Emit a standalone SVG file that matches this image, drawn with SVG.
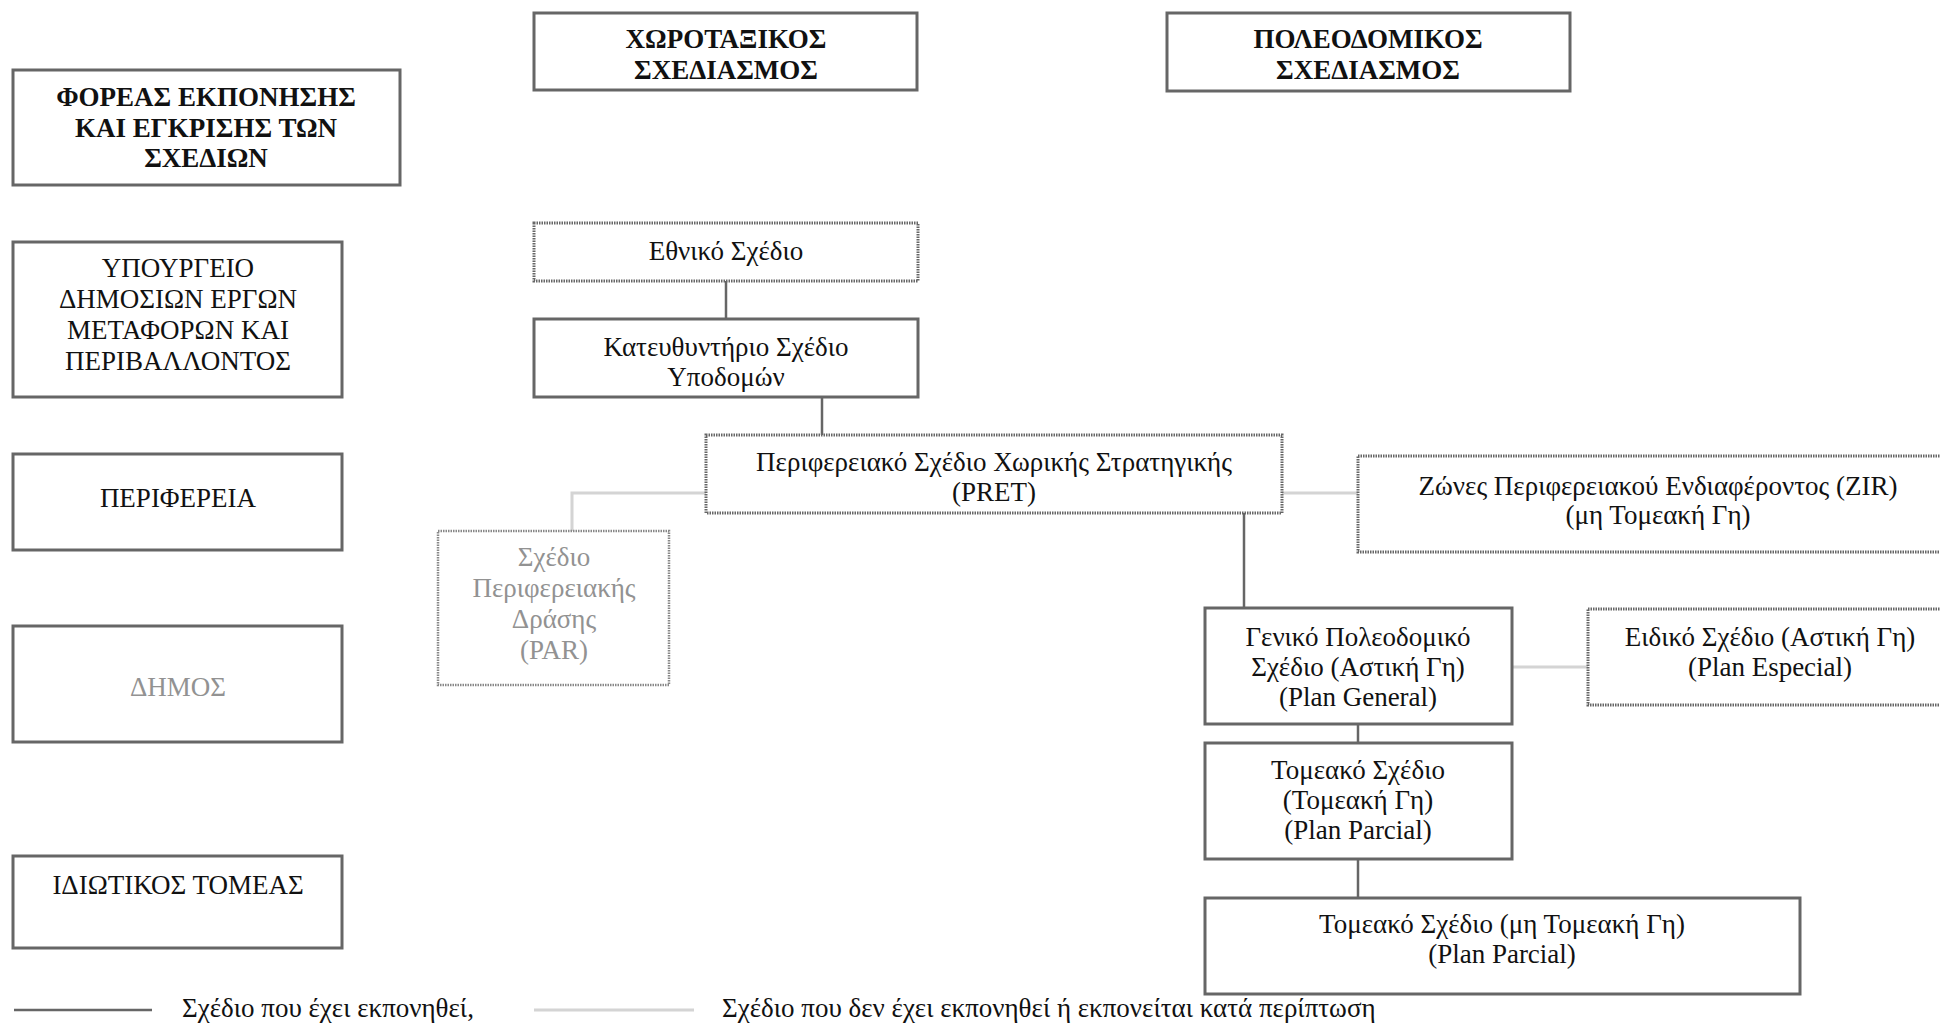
<svg xmlns="http://www.w3.org/2000/svg" width="1940" height="1023" viewBox="0 0 1940 1023">
<style>
  text { font-family: "Liberation Serif", "Times New Roman", serif; font-size: 27px; fill: #111; text-anchor: middle; }
  .b { font-weight: bold; }
  .grey { fill: #929292; }
  .box { fill: #fff; stroke: #666; stroke-width: 3; }
  .dot { fill: #fff; stroke: #666; stroke-width: 3; stroke-dasharray: 1.5 1; }
  .dotg { fill: #fff; stroke: #888; stroke-width: 2.5; stroke-dasharray: 1.5 1; }
  .c { fill: none; stroke: #666; stroke-width: 2.5; }
  .cl { fill: none; stroke: #d4d4d4; stroke-width: 3; }
  .legtxt { text-anchor: start; }
</style>
<rect width="1940" height="1023" fill="#fff"/>

<g id="connectors">
  <line class="c" x1="726" y1="281" x2="726" y2="319"/>
  <line class="c" x1="822" y1="397" x2="822" y2="435"/>
  <polyline class="cl" points="706,493 572,493 572,531"/>
  <line class="cl" x1="1282" y1="493" x2="1358" y2="493"/>
  <line class="c" x1="1244" y1="513" x2="1244" y2="608"/>
  <line class="cl" x1="1512" y1="667" x2="1588" y2="667"/>
  <line class="c" x1="1358" y1="724" x2="1358" y2="743"/>
  <line class="c" x1="1358" y1="859" x2="1358" y2="898"/>
</g>

<g id="header-foreas">
  <rect class="box" x="13" y="70" width="387" height="115"/>
  <text class="b" x="206" y="106">ΦΟΡΕΑΣ ΕΚΠΟΝΗΣΗΣ</text>
  <text class="b" x="206" y="137">ΚΑΙ ΕΓΚΡΙΣΗΣ ΤΩΝ</text>
  <text class="b" x="206" y="167">ΣΧΕΔΙΩΝ</text>
</g>
<g id="header-xorotaxikos">
  <rect class="box" x="534" y="13" width="383" height="77"/>
  <text class="b" x="726" y="48">ΧΩΡΟΤΑΞΙΚΟΣ</text>
  <text class="b" x="726" y="79">ΣΧΕΔΙΑΣΜΟΣ</text>
</g>
<g id="header-poleodomikos">
  <rect class="box" x="1167" y="13" width="403" height="78"/>
  <text class="b" x="1368" y="48">ΠΟΛΕΟΔΟΜΙΚΟΣ</text>
  <text class="b" x="1368" y="79">ΣΧΕΔΙΑΣΜΟΣ</text>
</g>

<g id="ypourgeio">
  <rect class="box" x="13" y="242" width="329" height="155"/>
  <text x="178" y="277">ΥΠΟΥΡΓΕΙΟ</text>
  <text x="178" y="308">ΔΗΜΟΣΙΩΝ ΕΡΓΩΝ</text>
  <text x="178" y="339">ΜΕΤΑΦΟΡΩΝ ΚΑΙ</text>
  <text x="178" y="370">ΠΕΡΙΒΑΛΛΟΝΤΟΣ</text>
</g>
<g id="perifereia">
  <rect class="box" x="13" y="454" width="329" height="96"/>
  <text x="178" y="507">ΠΕΡΙΦΕΡΕΙΑ</text>
</g>
<g id="dimos">
  <rect class="box" x="13" y="626" width="329" height="116"/>
  <text class="grey" x="178" y="696">ΔΗΜΟΣ</text>
</g>
<g id="idiotikos">
  <rect class="box" x="13" y="856" width="329" height="92"/>
  <text x="178" y="894">ΙΔΙΩΤΙΚΟΣ ΤΟΜΕΑΣ</text>
</g>

<g id="ethniko">
  <rect class="dot" x="534" y="223" width="384" height="58"/>
  <text x="726" y="260">Εθνικό Σχέδιο</text>
</g>
<g id="kateythyntirio">
  <rect class="box" x="534" y="319" width="384" height="78"/>
  <text x="726" y="356">Κατευθυντήριο Σχέδιο</text>
  <text x="726" y="386">Υποδομών</text>
</g>
<g id="pret">
  <rect class="dot" x="706" y="435" width="576" height="78"/>
  <text x="994" y="471">Περιφερειακό Σχέδιο Χωρικής Στρατηγικής</text>
  <text x="994" y="501">(PRET)</text>
</g>
<g id="par">
  <rect class="dotg" x="438" y="531" width="231" height="154"/>
  <text class="grey" x="554" y="566">Σχέδιο</text>
  <text class="grey" x="554" y="597">Περιφερειακής</text>
  <text class="grey" x="554" y="628">Δράσης</text>
  <text class="grey" x="554" y="659">(PAR)</text>
</g>
<g id="zir">
  <rect class="dot" x="1358" y="456" width="600" height="96"/>
  <text x="1658" y="495">Ζώνες Περιφερειακού Ενδιαφέροντος (ZIR)</text>
  <text x="1658" y="524">(μη Τομεακή Γη)</text>
</g>
<g id="geniko">
  <rect class="box" x="1205" y="608" width="307" height="116"/>
  <text x="1358" y="646">Γενικό Πολεοδομικό</text>
  <text x="1358" y="676">Σχέδιο (Αστική Γη)</text>
  <text x="1358" y="706">(Plan General)</text>
</g>
<g id="eidiko">
  <rect class="dot" x="1588" y="609" width="370" height="96"/>
  <text x="1770" y="646">Ειδικό Σχέδιο (Αστική Γη)</text>
  <text x="1770" y="676">(Plan Especial)</text>
</g>
<g id="tomeako">
  <rect class="box" x="1205" y="743" width="307" height="116"/>
  <text x="1358" y="779">Τομεακό Σχέδιο</text>
  <text x="1358" y="809">(Τομεακή Γη)</text>
  <text x="1358" y="839">(Plan Parcial)</text>
</g>
<g id="tomeako-mi">
  <rect class="box" x="1205" y="898" width="595" height="96"/>
  <text x="1502" y="933">Τομεακό Σχέδιο (μη Τομεακή Γη)</text>
  <text x="1502" y="963">(Plan Parcial)</text>
</g>

<g id="legend">
  <line class="c" x1="14" y1="1010" x2="152" y2="1010"/>
  <text class="legtxt" x="182" y="1017">Σχέδιο που έχει εκπονηθεί,</text>
  <line class="cl" x1="534" y1="1010" x2="694" y2="1010"/>
  <text class="legtxt" x="722" y="1017">Σχέδιο που δεν έχει εκπονηθεί ή εκπονείται κατά περίπτωση</text>
</g>
</svg>
